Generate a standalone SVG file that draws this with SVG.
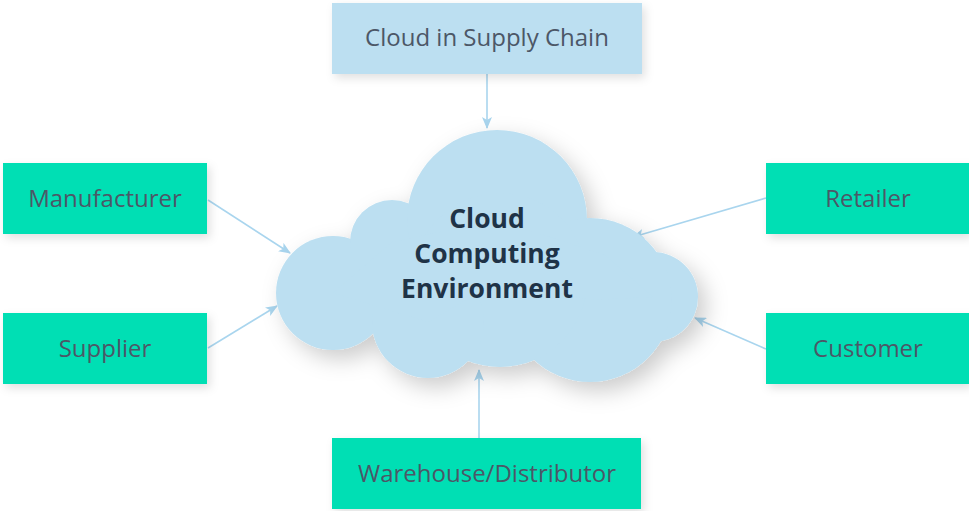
<svg xmlns="http://www.w3.org/2000/svg" width="969" height="511" viewBox="0 0 969 511">
  <defs>
    <style>
      .green { fill: #00dfb4; }
      .blue { fill: #bcdff1; }
      .lbl { font-family: "Open Sans", "Noto Sans", sans-serif; font-size: 24px; fill: #4c5767; text-anchor: middle; dominant-baseline: central; }
      .cloudtxt { font-family: "Open Sans", "Noto Sans", sans-serif; font-size: 26.5px; font-weight: bold; fill: #1f3347; text-anchor: middle; }
      .conn { stroke: #a9d5ee; stroke-width: 1.6; fill: none; marker-end: url(#arrow); }
    </style>
    <filter id="boxShadow" x="-20%" y="-30%" width="140%" height="170%">
      <feDropShadow dx="3" dy="4" stdDeviation="5" flood-color="#000000" flood-opacity="0.12"/>
    </filter>
    <filter id="cloudShadow" x="-20%" y="-20%" width="140%" height="150%">
      <feDropShadow dx="8" dy="9" stdDeviation="11" flood-color="#000000" flood-opacity="0.2"/>
    </filter>
    <marker id="arrow" viewBox="0 0 12 10" refX="11" refY="5" markerWidth="12" markerHeight="10" markerUnits="userSpaceOnUse" orient="auto">
      <path d="M0,0 L12,5 L0,10 L3,5 Z" fill="#a9d5ee"/>
    </marker>
  </defs>

  <g id="connectors">
    <line class="conn" x1="487" y1="74" x2="487" y2="128"/>
    <line class="conn" x1="208" y1="200" x2="290" y2="253"/>
    <line class="conn" x1="208" y1="348" x2="277" y2="306"/>
    <line class="conn" x1="766" y1="198" x2="633" y2="237"/>
    <line class="conn" x1="766" y1="349" x2="695" y2="318"/>
    <line class="conn" x1="479" y1="438" x2="479" y2="370"/>
  </g>

  <g id="cloud">
    <g class="blue" filter="url(#cloudShadow)">
      <circle cx="333" cy="293" r="57"/>
      <circle cx="392" cy="242" r="42"/>
      <circle cx="497" cy="220" r="90"/>
      <circle cx="605" cy="255" r="33"/>
      <circle cx="653" cy="297" r="45"/>
      <circle cx="590" cy="300" r="82"/>
      <circle cx="500" cy="280" r="87"/>
      <circle cx="428" cy="322" r="56"/>
      <polygon points="333,293 392,242 497,220 605,255 653,297 590,300 500,280 428,322"/>
    </g>
    <text class="cloudtxt" x="487" y="228">Cloud</text>
    <text class="cloudtxt" x="487" y="263">Computing</text>
    <text class="cloudtxt" x="487" y="298">Environment</text>
  </g>

  <g id="cloud-in-supply-chain">
    <rect class="blue" x="332" y="3" width="310" height="71" filter="url(#boxShadow)"/>
    <text class="lbl" x="487" y="36">Cloud in Supply Chain</text>
  </g>

  <g id="manufacturer">
    <rect class="green" x="3" y="163" width="204" height="71" filter="url(#boxShadow)"/>
    <text class="lbl" x="105" y="197">Manufacturer</text>
  </g>

  <g id="supplier">
    <rect class="green" x="3" y="313" width="204" height="71" filter="url(#boxShadow)"/>
    <text class="lbl" x="105" y="347">Supplier</text>
  </g>

  <g id="retailer">
    <rect class="green" x="766" y="163" width="203" height="71" filter="url(#boxShadow)"/>
    <text class="lbl" x="868" y="197">Retailer</text>
  </g>

  <g id="customer">
    <rect class="green" x="766" y="313" width="203" height="71" filter="url(#boxShadow)"/>
    <text class="lbl" x="868" y="347">Customer</text>
  </g>

  <g id="warehouse-distributor">
    <rect class="green" x="332" y="438" width="309" height="71" filter="url(#boxShadow)"/>
    <text class="lbl" x="487" y="472">Warehouse/Distributor</text>
  </g>
</svg>
